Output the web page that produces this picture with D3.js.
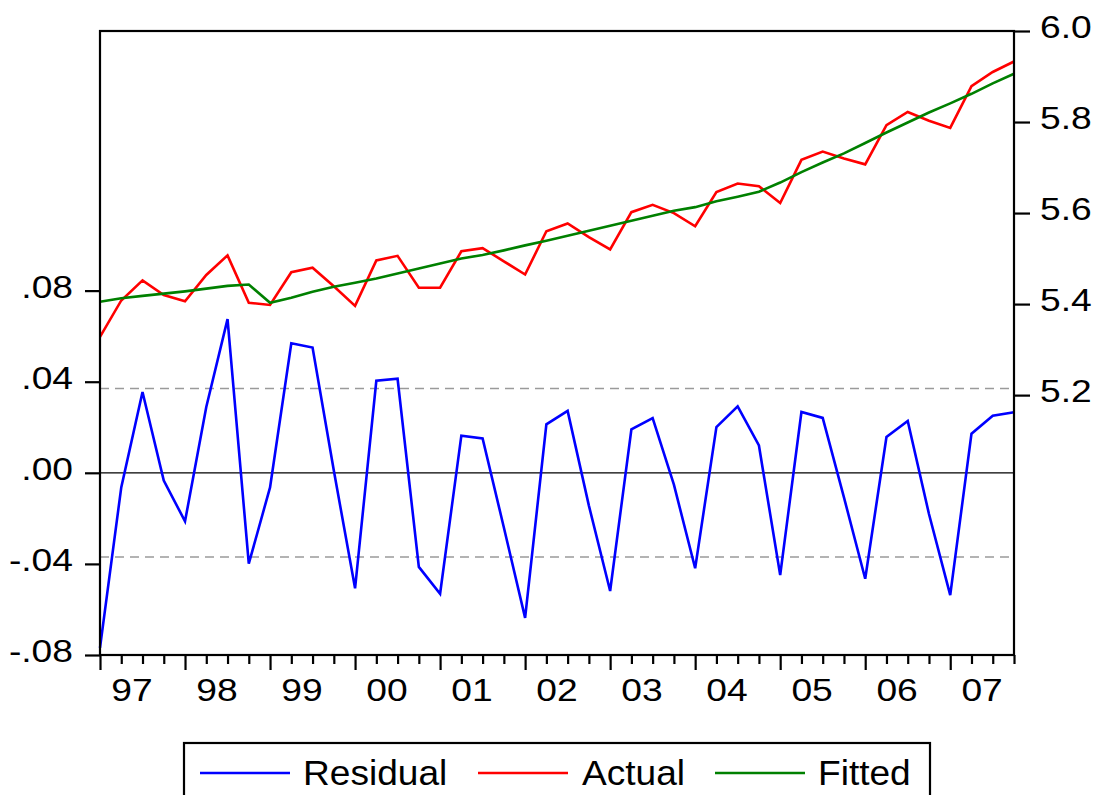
<!DOCTYPE html>
<html>
<head>
<meta charset="utf-8">
<script src="https://cdn.jsdelivr.net/npm/d3@7"></script>
<style>
  html, body { margin: 0; padding: 0; background: #fff; }
  svg { display: block; font-family: "Liberation Sans", Arial, sans-serif; }
</style>
</head>
<body>
<svg id="chart" width="1095" height="795"></svg>
<script>
// Quarterly sample 1997Q1 - 2007Q4
const years = ["97", "98", "99", "00", "01", "02", "03", "04", "05", "06", "07"];
const quarters = d3.range(44); // index 0 = 1997Q1

// Regression residuals (left axis)
const residual = [
  -0.0769, -0.0064, 0.0355, -0.0034, -0.0213, 0.0289, 0.0675, -0.0399,
  -0.0064, 0.0569, 0.0550, 0.0010, -0.0507, 0.0404, 0.0413, -0.0413,
  -0.0531, 0.0163, 0.0151, -0.0240, -0.0637, 0.0213, 0.0272, -0.0144,
  -0.0519, 0.0191, 0.0240, -0.0052, -0.0419, 0.0201, 0.0292, 0.0120,
  -0.0449, 0.0267, 0.0241, -0.0108, -0.0465, 0.0157, 0.0228, -0.0181,
  -0.0537, 0.0172, 0.0251, 0.0266
];

// Actual series (right axis)
const actual = [
  5.328, 5.408, 5.452, 5.420, 5.406, 5.464, 5.507, 5.403,
  5.398, 5.470, 5.480, 5.439, 5.396, 5.496, 5.506, 5.436,
  5.436, 5.516, 5.523, 5.494, 5.465, 5.560, 5.577, 5.547,
  5.520, 5.602, 5.618, 5.600, 5.571, 5.646, 5.665, 5.659,
  5.622, 5.717, 5.735, 5.720, 5.707, 5.793, 5.822, 5.803,
  5.787, 5.879, 5.910, 5.933
];

// Fitted series (right axis)
const fitted = [
  5.405, 5.413, 5.418, 5.423, 5.428, 5.434, 5.440, 5.443,
  5.403, 5.414, 5.427, 5.438, 5.447, 5.456, 5.467, 5.478,
  5.489, 5.500, 5.508, 5.518, 5.529, 5.539, 5.550, 5.561,
  5.572, 5.583, 5.594, 5.605, 5.613, 5.626, 5.636, 5.647,
  5.667, 5.690, 5.711, 5.731, 5.754, 5.777, 5.799, 5.821,
  5.841, 5.862, 5.885, 5.906
];

const leftTicks = [0.08, 0.04, 0.00, -0.04, -0.08];
const leftTickLabels = [".08", ".04", ".00", "-.04", "-.08"];
const rightTicks = [6.0, 5.8, 5.6, 5.4, 5.2];
const rightTickLabels = ["6.0", "5.8", "5.6", "5.4", "5.2"];
const residualBand = [0.037, -0.037];

const legendItems = [
  { name: "Residual", color: "#0000ff" },
  { name: "Actual", color: "#ff0000" },
  { name: "Fitted", color: "#008000" }
];

// Plot geometry
const L = 100, R = 1014, T = 31, B = 655;
const svg = d3.select("#chart");

const x = d3.scaleLinear().domain([0, 43]).range([L, R]);
const yL = d3.scaleLinear().domain([-0.08, 0.194]).range([B, T]);
const yR = d3.scaleLinear().domain([4.629, 6.0]).range([B, T]);

const axisFont = 31, axisStretch = 1.2;
const seriesWidth = 2.6;

// Residual reference lines
svg.append("g").selectAll("line").data(residualBand).join("line")
  .attr("x1", L).attr("x2", R)
  .attr("y1", d => yL(d)).attr("y2", d => yL(d))
  .attr("stroke", "#9a9a9a").attr("stroke-width", 1.4)
  .attr("stroke-dasharray", "9,6");

svg.append("line")
  .attr("x1", L).attr("x2", R)
  .attr("y1", yL(0)).attr("y2", yL(0))
  .attr("stroke", "#000").attr("stroke-width", 1.3);

// Series lines
const lineL = d3.line().x((d, i) => x(i)).y(d => yL(d));
const lineR = d3.line().x((d, i) => x(i)).y(d => yR(d));

svg.append("path").datum(residual).attr("d", lineL)
  .attr("fill", "none").attr("stroke", "#0000ff").attr("stroke-width", seriesWidth);
svg.append("path").datum(actual).attr("d", lineR)
  .attr("fill", "none").attr("stroke", "#ff0000").attr("stroke-width", seriesWidth);
svg.append("path").datum(fitted).attr("d", lineR)
  .attr("fill", "none").attr("stroke", "#008000").attr("stroke-width", seriesWidth);

// Frame
svg.append("rect")
  .attr("x", L).attr("y", T).attr("width", R - L).attr("height", B - T)
  .attr("fill", "none").attr("stroke", "#000").attr("stroke-width", 2.2);

// Left axis
const gL = svg.append("g").attr("transform", `translate(${L},0)`)
  .call(d3.axisLeft(yL).tickValues(leftTicks).tickSize(15)
    .tickFormat((d, i) => leftTickLabels[i]));
gL.select(".domain").remove();
gL.selectAll(".tick line").attr("stroke", "#000").attr("stroke-width", 2.2);
gL.selectAll(".tick text")
  .attr("x", null).attr("dy", null).attr("y", null)
  .attr("text-anchor", "end")
  .attr("transform", `translate(-27,6.5) scale(${axisStretch},1)`)
  .attr("font-size", axisFont).attr("font-family", "Liberation Sans, Arial, sans-serif")
  .attr("fill", "#000");

// Right axis
const gR = svg.append("g").attr("transform", `translate(${R},0)`)
  .call(d3.axisRight(yR).tickValues(rightTicks).tickSize(16)
    .tickFormat((d, i) => rightTickLabels[i]));
gR.select(".domain").remove();
gR.selectAll(".tick line").attr("stroke", "#000").attr("stroke-width", 2.2);
gR.selectAll(".tick text")
  .attr("x", null).attr("dy", null).attr("y", null)
  .attr("text-anchor", "start")
  .attr("transform", `translate(26,6.5) scale(${axisStretch},1)`)
  .attr("font-size", axisFont).attr("font-family", "Liberation Sans, Arial, sans-serif")
  .attr("fill", "#000");

// Bottom axis: long ticks at year starts, short ticks at other quarters
const gMinor = svg.append("g").attr("transform", `translate(0,${B})`)
  .call(d3.axisBottom(x).tickValues(quarters.filter(q => q % 4 !== 0)).tickSize(9).tickFormat(""));
gMinor.select(".domain").remove();
gMinor.selectAll(".tick line").attr("stroke", "#000").attr("stroke-width", 2.2);

const gMajor = svg.append("g").attr("transform", `translate(0,${B})`)
  .call(d3.axisBottom(x).tickValues(quarters.filter(q => q % 4 === 0)).tickSize(15).tickFormat(""));
gMajor.select(".domain").remove();
gMajor.selectAll(".tick line").attr("stroke", "#000").attr("stroke-width", 2.2);

svg.append("g").selectAll("text").data(years).join("text")
  .attr("transform", (d, i) => `translate(${x(i * 4 + 1.5)},701) scale(${axisStretch},1)`)
  .attr("text-anchor", "middle")
  .attr("font-size", axisFont)
  .attr("fill", "#000")
  .text(d => d);

// Legend
const legend = svg.append("g");
legend.append("rect")
  .attr("x", 184).attr("y", 743).attr("width", 746).attr("height", 80)
  .attr("fill", "#fff").attr("stroke", "#000").attr("stroke-width", 2.2);

const legendLineX = [200, 478, 715];
const legendTextX = [303, 582, 818];
const legendG = legend.selectAll("g.item").data(legendItems).join("g").attr("class", "item");
legendG.append("line")
  .attr("x1", (d, i) => legendLineX[i]).attr("x2", (d, i) => legendLineX[i] + 90)
  .attr("y1", 773).attr("y2", 773)
  .attr("stroke", d => d.color).attr("stroke-width", 2.4);
legendG.append("text")
  .attr("transform", (d, i) => `translate(${legendTextX[i]},785) scale(1.06,1)`)
  .attr("font-size", 35)
  .attr("fill", "#000")
  .text(d => d.name);
</script>
</body>
</html>
